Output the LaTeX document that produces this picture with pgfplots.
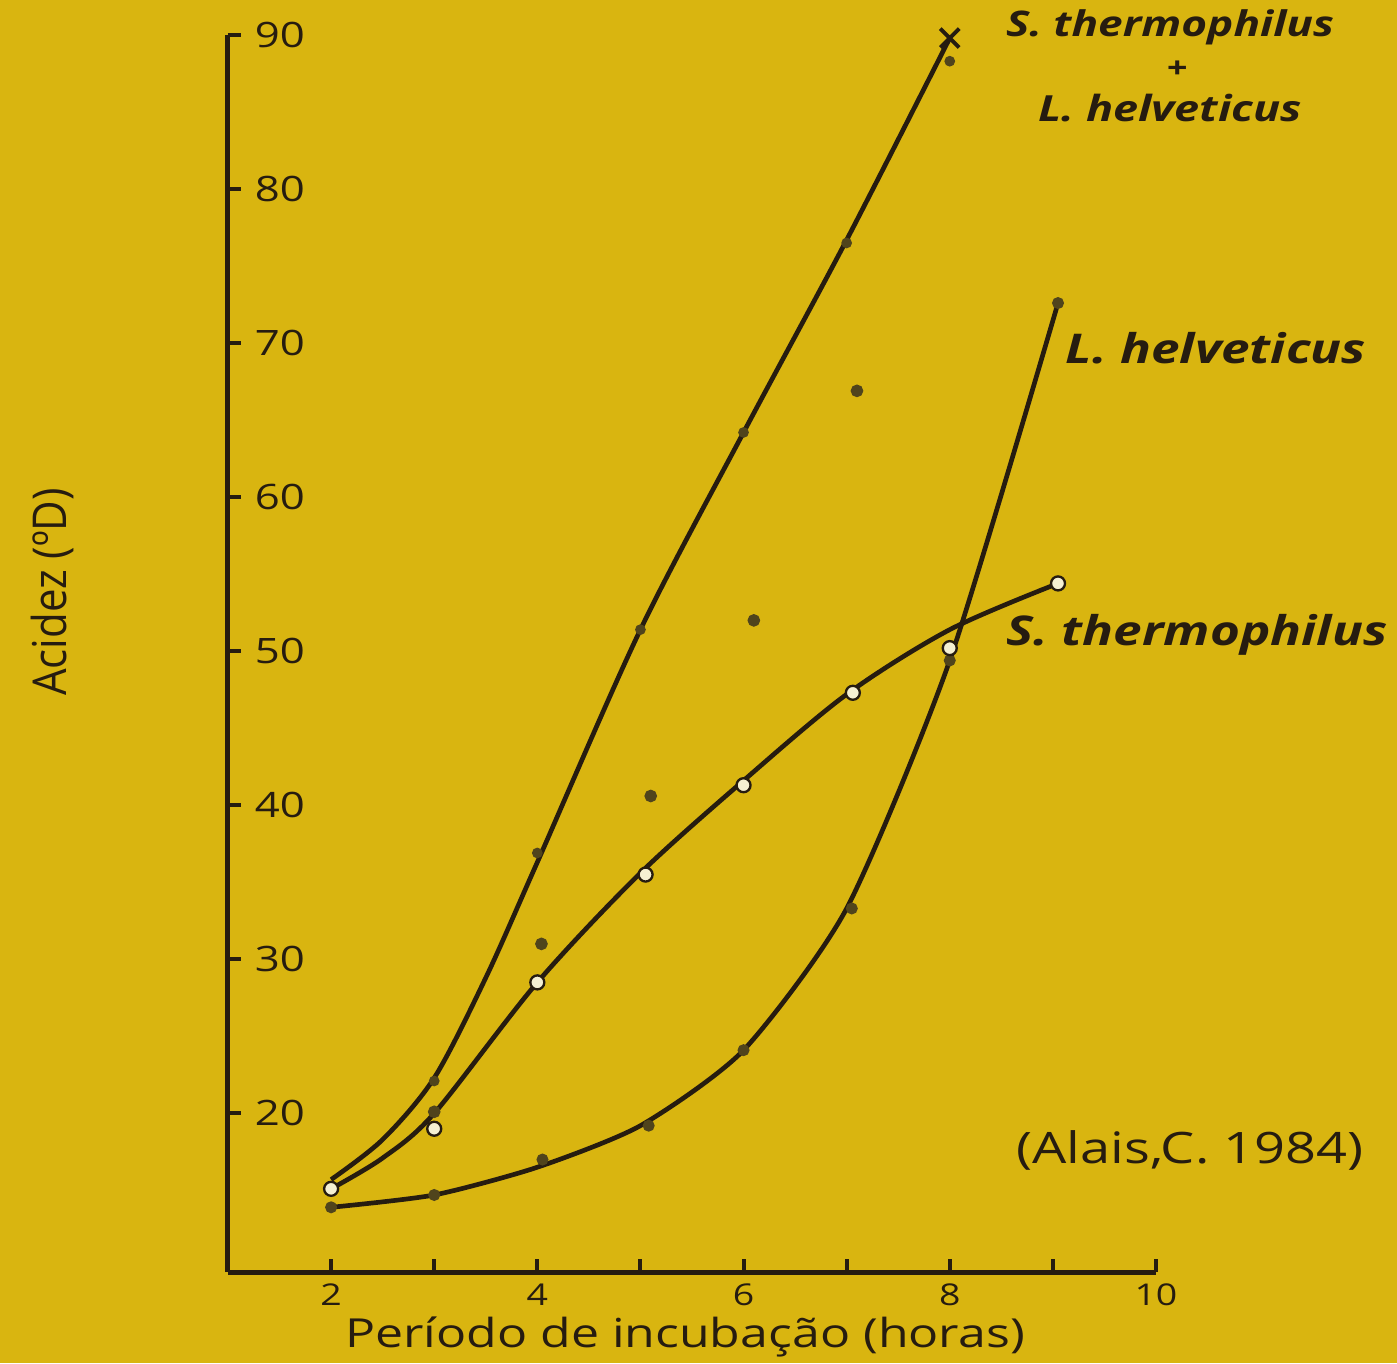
\documentclass[border=0pt]{standalone}
\usepackage{pgfplots}
\pgfplotsset{compat=1.18}
\usetikzlibrary{backgrounds}
\usepackage{fontspec}
\setmainfont{Open Sans}[FakeStretch=1.25]
\newfontfamily\rotfont{Open Sans}[FakeStretch=0.9]
\definecolor{bg}{RGB}{217,181,16}
\definecolor{ink}{RGB}{38,28,16}
\definecolor{dotc}{RGB}{80,68,28}
\definecolor{opc}{RGB}{245,240,210}

\begin{document}
\begin{tikzpicture}[x=0.3pt,y=0.3pt]
\begin{axis}[scale only axis,
  width=278.4pt, height=371.1pt,
  xmin=1, xmax=10, ymin=9.7, ymax=90,
  axis x line*=bottom, axis y line*=left,
  axis line style={ink, line width=1.5pt, -},
  xtick={2,...,10}, xticklabels={2,,4,,6,,8,,10},
  ytick={20,30,...,90},
  tick align=inside, major tick length=4pt,
  tick style={ink, line width=1.2pt},
  yticklabel style={anchor=west, xshift=4.5pt, font=\fontsize{10.5}{11}\selectfont, text=ink},
  xticklabel style={font=\fontsize{9}{10}\selectfont, text=ink},
  /pgf/number format/assume math mode=true,
  clip=false,
]
% S. thermophilus + L. helveticus
\addplot[ink, line width=1.4pt, smooth, tension=0.5] coordinates {
 (2,15.7) (2.5,18.3) (3,22.3) (3.5,28.8) (4,36.3) (5,51.4) (6,64.2) (7,76.7) (8,89.8)};
\addplot[only marks, mark=*, mark size=1.4pt, mark options={fill=dotc, draw=dotc}] coordinates {
 (3,22.1) (4,36.9) (5,51.4) (6,64.2) (7,76.5) (8,88.3)};
\addplot[only marks, mark=x, mark size=4pt, mark options={ink, line width=1.2pt}] coordinates {(8,89.8)};
% scattered points
\addplot[only marks, mark=*, mark size=1.7pt, mark options={fill=dotc, draw=dotc}] coordinates {
 (4.04,31.0) (5.1,40.6) (6.1,52.0) (7.1,66.9) (3,20.1)};
% L. helveticus
\addplot[ink, line width=1.4pt, smooth, tension=0.4] coordinates {
 (2,13.9) (3,14.7) (4,16.5) (5,19.2) (6,24.1) (7,33.3) (8,49.4) (9.05,72.6)};
\addplot[only marks, mark=*, mark size=1.6pt, mark options={fill=dotc, draw=dotc}] coordinates {
 (2,13.9) (3,14.7) (4.05,17.0) (5.08,19.2) (6,24.1) (7.05,33.3) (8,49.4) (9.05,72.6)};
% S. thermophilus
\addplot[ink, line width=1.4pt, smooth, tension=0.5] coordinates {
 (2,15.1) (2.5,17.1) (3,20.0) (4,28.5) (5,35.6) (6,41.6) (7,47.2) (8,51.4) (9.05,54.4)};
\addplot[only marks, mark=*, mark size=2.1pt, mark options={fill=opc, draw=ink, line width=0.7pt}] coordinates {
 (2,15.1) (3,19.0) (4,28.5) (5.05,35.5) (6,41.3) (7.06,47.3) (8,50.2) (9.05,54.4)};
\coordinate (O) at (rel axis cs:0,0);
\end{axis}
\begin{scope}[shift={(O)}]
\begin{scope}[shift={(-228,-91)}]
\begin{pgfonlayer}{background}
\fill[bg] (0,0) rectangle (1397,1363);
\end{pgfonlayer}
\node[rotate=90, text=ink, font=\rotfont\fontsize{14}{16}\selectfont] at (52,771) {Acidez (ºD)};
\node[text=ink, font=\fontsize{12}{14}\selectfont] at (685,26) {Período de incubação (horas)};
\node[text=ink, font=\fontsize{13}{15}\selectfont] at (1190,213) {(Alais,C. 1984)};
\node[text=ink, font=\bfseries\itshape\fontsize{10.6}{12}\selectfont] at (1170,1336) {S. thermophilus};
\node[text=ink, font=\bfseries\itshape\fontsize{9}{10}\selectfont] at (1177,1293) {+};
\node[text=ink, font=\bfseries\itshape\fontsize{10.8}{12}\selectfont] at (1170,1255) {L. helveticus};
\node[text=ink, font=\bfseries\itshape\fontsize{12.3}{14}\selectfont] at (1216,1015) {L. helveticus};
\node[text=ink, font=\bfseries\itshape\fontsize{12.3}{14}\selectfont] at (1197,728) {S. thermophilus};
\pgfresetboundingbox
\useasboundingbox (0,0) rectangle (1397,1363);
\end{scope}
\end{scope}
\end{tikzpicture}
\end{document}
